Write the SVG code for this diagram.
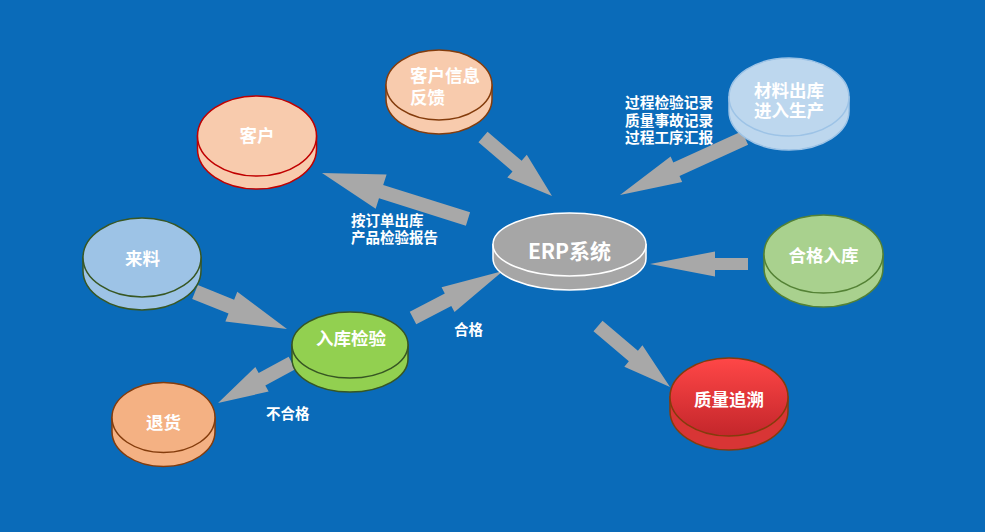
<svg xmlns="http://www.w3.org/2000/svg" width="985" height="532" viewBox="0 0 985 532">
<defs>
<linearGradient id="redG" x1="0" y1="0" x2="0" y2="1">
<stop offset="0" stop-color="#ff4747"/>
<stop offset="1" stop-color="#c4262b"/>
</linearGradient>
</defs>
<style>
.t{font-family:"Noto Sans CJK SC","Liberation Sans",sans-serif;font-weight:bold;fill:#ffffff;}
.m{font-family:"Liberation Sans","Noto Sans CJK SC",sans-serif;}
.n{font-size:17.5px;text-anchor:middle;}
.l{font-size:14.5px;}
.arr{fill:#a8a8a8;}
</style>
<rect width="985" height="532" fill="#0a6bb9"/>

<g id="connectors">
<polygon class="arr" points="470.1,212.3 383.2,185.0 386.6,174.5 322,173 375.7,208.8 379.0,198.3 465.9,225.7"/>
<polygon class="arr" points="478.45,142.32 512.5,171.4 507.3,177.5 552,196 526.8,154.7 521.6,160.8 487.55,131.68"/>
<polygon class="arr" points="741.89,131.18 673.3,162.46 670.6,156.5 620,195 682.2,182.0 679.52,176.1 748.11,144.82"/>
<polygon class="arr" points="748,258 715,258 715,251.5 650,264 715,276.5 715,270 748,270"/>
<polygon class="arr" points="593.48,331.34 628.86,361.31 624.33,366.65 670,387 642.43,345.29 637.9,350.63 602.52,320.66"/>
<polygon class="arr" points="192.2,298.96 228.53,313.57 225.36,321.45 287,329 237.3,291.77 234.13,299.65 197.8,285.04"/>
<polygon class="arr" points="416.24,324.2 451.28,305.9 454.52,312.11 503,271 441.56,287.29 444.8,293.5 409.76,311.8"/>
<polygon class="arr" points="288.67,356.84 258.66,373.06 255.33,366.9 218,403 268.65,391.54 265.32,385.38 295.33,369.16"/>
</g>

<g id="node-kehu">
<path d="M197.5,136 L197.5,149 A59.5,40 0 0 0 316.5,149 L316.5,136 Z" fill="#f8cbad" stroke="#c00000" stroke-width="1.5"/>
<ellipse cx="257" cy="136" rx="59.5" ry="40" fill="#f8cbad" stroke="#c00000" stroke-width="1.5"/>
<text class="t n" x="257" y="142">客户</text>
</g>

<g id="node-feedback">
<path d="M386,85 L386,99 A53,35 0 0 0 492,99 L492,85 Z" fill="#f8cbad" stroke="#843c0c" stroke-width="1.5"/>
<ellipse cx="439" cy="85" rx="53" ry="35" fill="#f8cbad" stroke="#843c0c" stroke-width="1.5"/>
<text class="t m" font-size="17.5"><tspan x="410" y="82">客户信息</tspan><tspan x="410" y="103.5">反馈</tspan></text>
</g>

<g id="node-material">
<path d="M729,97 L729,111 A60,39 0 0 0 849,111 L849,97 Z" fill="#bdd7ee" stroke="#9dc3e6" stroke-width="1.5"/>
<ellipse cx="789" cy="97" rx="60" ry="39" fill="#bdd7ee" stroke="#9dc3e6" stroke-width="1.5"/>
<text class="t m n"><tspan x="789" y="96.5">材料出库</tspan><tspan x="789" y="116.5">进入生产</tspan></text>
</g>

<g id="label-records">
<text class="t m" font-size="14.7"><tspan x="625" y="107.5">过程检验记录</tspan><tspan x="625" y="125.5">质量事故记录</tspan><tspan x="625" y="142.5">过程工序汇报</tspan></text>
</g>

<g id="node-erp">
<path d="M493,244.5 L493,258.5 A76.5,31.5 0 0 0 646,258.5 L646,244.5 Z" fill="#a6a6a6" stroke="#ffffff" stroke-width="1.5"/>
<ellipse cx="569.5" cy="244.5" rx="76.5" ry="31.5" fill="#a6a6a6" stroke="#ffffff" stroke-width="1.5"/>
<text class="t" font-size="21" text-anchor="middle" x="569.5" y="259" fill="#f2f2f2">ERP系统</text>
</g>

<g id="node-hege-ruku">
<path d="M764,254 L764,268 A59.5,39 0 0 0 883,268 L883,254 Z" fill="#a9d18e" stroke="#548235" stroke-width="1.5"/>
<ellipse cx="823.5" cy="254" rx="59.5" ry="39" fill="#a9d18e" stroke="#548235" stroke-width="1.5"/>
<text class="t n" x="823.5" y="261.5">合格入库</text>
</g>

<g id="node-trace">
<path d="M670,397 L670,411 A59,39 0 0 0 788,411 L788,397 Z" fill="#d83535" stroke="#843c0c" stroke-width="1.5"/>
<ellipse cx="729" cy="397" rx="59" ry="39" fill="url(#redG)" stroke="#843c0c" stroke-width="1.5"/>
<text class="t n" x="729" y="405.5">质量追溯</text>
</g>

<g id="node-laoliao">
<path d="M83,257.5 L83,270.5 A59,39.5 0 0 0 201,270.5 L201,257.5 Z" fill="#9dc3e6" stroke="#385723" stroke-width="1.5"/>
<ellipse cx="142" cy="257.5" rx="59" ry="39.5" fill="#9dc3e6" stroke="#385723" stroke-width="1.5"/>
<text class="t n" x="142.5" y="265">来料</text>
</g>

<g id="node-inspect">
<path d="M292,345 L292,359 A58,33 0 0 0 408,359 L408,345 Z" fill="#92d050" stroke="#375623" stroke-width="1.5"/>
<ellipse cx="350" cy="345" rx="58" ry="33" fill="#92d050" stroke="#375623" stroke-width="1.5"/>
<text class="t n" x="351" y="344.5">入库检验</text>
</g>

<g id="node-return">
<path d="M112,417.5 L112,431.5 A51.5,35 0 0 0 215,431.5 L215,417.5 Z" fill="#f4b183" stroke="#843c0c" stroke-width="1.5"/>
<ellipse cx="163.5" cy="417.5" rx="51.5" ry="35" fill="#f4b183" stroke="#843c0c" stroke-width="1.5"/>
<text class="t n" x="163.5" y="429">退货</text>
</g>

<g id="labels">
<text class="t m l"><tspan x="351" y="225.5">按订单出库</tspan><tspan x="351" y="242.5">产品检验报告</tspan></text>
<text class="t l" x="454" y="334.5">合格</text>
<text class="t l" x="266" y="418.5">不合格</text>
</g>
</svg>
